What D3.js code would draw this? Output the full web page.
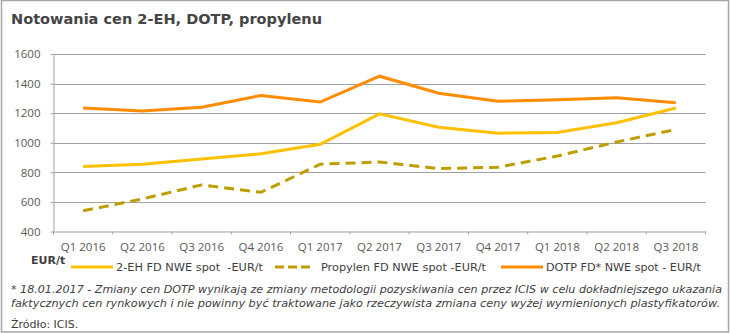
<!DOCTYPE html>
<html lang="pl">
<head>
<meta charset="UTF-8">
<title>Notowania cen 2-EH, DOTP, propylenu</title>
<script src="https://d3js.org/d3.v7.min.js"></script>
<style>
    body { margin: 0; background: #fff; }
    svg { display: block; }
</style>
</head>
<body>
<div id="chart"></div>
<script>
    // dane (EUR/t)
    var quarters = ["Q1 2016", "Q2 2016", "Q3 2016", "Q4 2016", "Q1 2017", "Q2 2017",
                    "Q3 2017", "Q4 2017", "Q1 2018", "Q2 2018", "Q3 2018"];
    var eh2 = [840, 855, 890, 925, 990, 1195, 1105, 1065, 1070, 1135, 1235];
    var propylen = [540, 620, 715, 665, 855, 870, 825, 835, 910, 1005, 1090];
    var dotp = [1235, 1215, 1240, 1320, 1275, 1450, 1335, 1280, 1290, 1305, 1270];
    var yTicks = [400, 600, 800, 1000, 1200, 1400, 1600];

    var series = [
        { name: "2-EH FD NWE spot  -EUR/t", values: eh2, color: "#ffc000", dash: null },
        { name: "Propylen FD NWE spot -EUR/t", values: propylen, color: "#bf9d00", dash: "10,6" },
        { name: "DOTP FD* NWE spot - EUR/t", values: dotp, color: "#ff8c00", dash: null }
    ];

    const W = 731, H = 333;
    const textCol = "#404040";
    const axisCol = "#595959";

    var svg = d3.select("#chart").append("svg")
        .attr("width", W).attr("height", H);

    // ramka
    svg.append("rect")
        .attr("x", 1.5).attr("y", 0.5)
        .attr("width", 727).attr("height", 331.5)
        .attr("fill", "none").attr("stroke", "#a6a6a6").attr("stroke-width", 1.5);

    svg.append("text")
        .attr("x", 11).attr("y", 24)
        .attr("font-family", "DejaVu Sans, sans-serif")
        .attr("font-size", "14px")
        .attr("font-weight", "bold")
        .attr("fill", "#454545")
        .attr("textLength", 311).attr("lengthAdjust", "spacingAndGlyphs")
        .text("Notowania cen 2-EH, DOTP, propylenu");

    var x = d3.scaleBand().domain(quarters).range([53.5, 705.5]);
    var y = d3.scaleLinear().domain([400, 1600]).range([231.5, 54]);

    // siatka
    svg.append("g").selectAll("line")
        .data(yTicks.slice(1))
        .join("line")
        .attr("x1", 53.5).attr("x2", 705.5)
        .attr("y1", d => Math.round(y(d)) + 0.5).attr("y2", d => Math.round(y(d)) + 0.5)
        .attr("stroke", "#a0a0a0").attr("stroke-width", 1);

    // oś Y
    var yAxis = svg.append("g")
        .attr("transform", "translate(53.5,0)")
        .call(d3.axisLeft(y).tickValues(yTicks).tickFormat(d3.format("d"))
            .tickSize(3).tickPadding(10).tickSizeOuter(0));
    yAxis.select(".domain").attr("stroke", "#a0a0a0");
    yAxis.selectAll(".tick line").attr("stroke", "#a0a0a0");
    yAxis.selectAll("text")
        .attr("font-family", "Open Sans, sans-serif")
        .attr("font-size", "11.5px")
        .attr("fill", axisCol);

    // oś X
    var xAxis = svg.append("g")
        .attr("transform", "translate(0,231.5)")
        .call(d3.axisBottom(x).tickSize(0).tickPadding(11));
    xAxis.select(".domain").attr("stroke", "#a0a0a0");
    xAxis.selectAll("text")
        .attr("font-family", "Open Sans, sans-serif")
        .attr("font-size", "11.5px")
        .attr("fill", axisCol);
    // znaczniki między kwartałami
    xAxis.append("g").selectAll("line")
        .data(d3.range(quarters.length + 1))
        .join("line")
        .attr("x1", i => x.range()[0] + i * x.step())
        .attr("x2", i => x.range()[0] + i * x.step())
        .attr("y1", 0).attr("y2", 3)
        .attr("stroke", "#a0a0a0");

    var line = d3.line()
        .x((d, i) => x(quarters[i]) + x.bandwidth() / 2)
        .y(d => y(d));

    svg.append("g").selectAll("path")
        .data(series)
        .join("path")
        .attr("d", d => line(d.values))
        .attr("fill", "none")
        .attr("stroke", d => d.color)
        .attr("stroke-width", 3)
        .attr("stroke-dasharray", d => d.dash);

    // legenda
    svg.append("text")
        .attr("x", 31).attr("y", 264)
        .attr("font-family", "DejaVu Sans, sans-serif")
        .attr("font-size", "11px")
        .attr("font-weight", "bold")
        .attr("fill", textCol)
        .text("EUR/t");

    var legendPos = [
        { x1: 71, x2: 113, tx: 116, tw: 147 },
        { x1: 275, x2: 314, tx: 321, tw: 165 },
        { x1: 501, x2: 543, tx: 546, tw: 155 }
    ];
    var leg = svg.append("g").selectAll("g")
        .data(series)
        .join("g");
    leg.append("line")
        .attr("x1", (d, i) => legendPos[i].x1).attr("x2", (d, i) => legendPos[i].x2)
        .attr("y1", 267).attr("y2", 267)
        .attr("stroke", d => d.color)
        .attr("stroke-width", 3)
        .attr("stroke-dasharray", d => d.dash ? "9,4" : null);
    leg.append("text")
        .attr("x", (d, i) => legendPos[i].tx).attr("y", 271)
        .attr("font-family", "DejaVu Sans, sans-serif")
        .attr("font-size", "11px")
        .attr("fill", textCol)
        .attr("textLength", (d, i) => legendPos[i].tw)
        .attr("lengthAdjust", "spacingAndGlyphs")
        .attr("xml:space", "preserve")
        .text(d => d.name);

    // przypis
    var notes = [
        { t: "* 18.01.2017 - Zmiany cen DOTP wynikają ze zmiany metodologii pozyskiwania cen przez ICIS w celu dokładniejszego ukazania", y: 293, w: 711 },
        { t: "faktycznych cen rynkowych i nie powinny być traktowane jako rzeczywista zmiana ceny wyżej wymienionych plastyfikatorów.", y: 307, w: 709 }
    ];
    svg.append("g").selectAll("text")
        .data(notes)
        .join("text")
        .attr("x", 11).attr("y", d => d.y)
        .attr("font-family", "DejaVu Sans, sans-serif")
        .attr("font-size", "11px")
        .attr("font-style", "italic")
        .attr("fill", textCol)
        .attr("textLength", d => d.w)
        .attr("lengthAdjust", "spacingAndGlyphs")
        .text(d => d.t);

    svg.append("text")
        .attr("x", 11).attr("y", 328)
        .attr("font-family", "DejaVu Sans, sans-serif")
        .attr("font-size", "11px")
        .attr("fill", textCol)
        .text("Źródło: ICIS.");
</script>
</body>
</html>
